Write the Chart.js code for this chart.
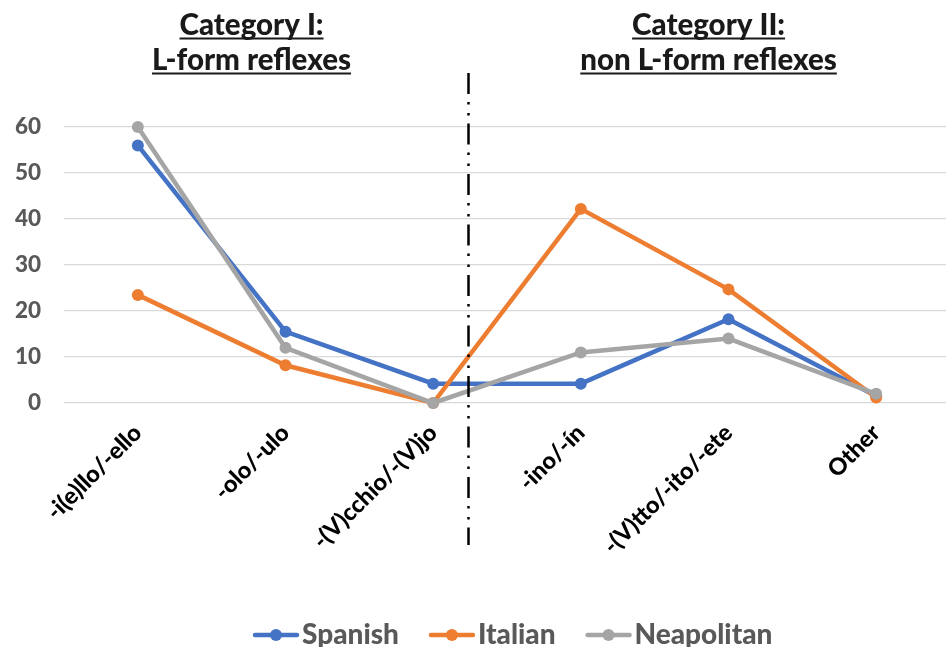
<!DOCTYPE html>
<html>
<head>
<meta charset="utf-8">
<script src="https://cdn.jsdelivr.net/npm/chart.js@4.4.1/dist/chart.umd.min.js"></script>
<style>
html,body{margin:0;padding:0;background:#fff;overflow:hidden;}
#wrap{position:absolute;left:0;top:0;width:956px;height:647px;}
</style>
</head>
<body>
<div id="wrap"><canvas id="c" width="956" height="647"></canvas></div>
<script>
const categories = ['-i(e)llo/-ello', '-olo/-ulo', '-(V)cchio/-(V)jo', '-ino/-ín', '-(V)tto/-ito/-ete', 'Other'];
const spanish = [56, 15.5, 4.2, 4.2, 18.2, 1.5];
const italian = [23.5, 8.2, 0, 42.2, 24.7, 1.2];
const neapolitan = [60, 12, 0, 11, 14, 2];
const seriesNames = ['Spanish', 'Italian', 'Neapolitan'];
const seriesColors = ['#4472C4', '#ED7D31', '#A5A5A5'];
const yMin = 0, yMax = 60, yStep = 10;
const groupTitles = [['Category I:', 'L-form reflexes'], ['Category II:', 'non L-form reflexes']];

const FONT = 'Lato, "Open Sans", sans-serif';

const decorPlugin = {
  id: 'decor',
  afterDatasetsDraw(chart) {
    const ctx = chart.ctx;
    const x = chart.scales.x;
    const dx = Math.round(x.getPixelForValue(2.235)) + 0.5;
    ctx.save();
    ctx.strokeStyle = '#000';
    ctx.lineWidth = 2.5;
    ctx.setLineDash([21, 8, 2.5, 8.5, 2.5, 8]);
    ctx.beginPath();
    ctx.moveTo(dx, 73);
    ctx.lineTo(dx, 545);
    ctx.stroke();
    ctx.restore();
  },
  afterDraw(chart) {
    const ctx = chart.ctx;
    const x = chart.scales.x;
    const centers = [x.getPixelForValue(0.77), x.getPixelForValue(3.865)];
    ctx.save();
    ctx.font = '900 29.5px ' + FONT;
    ctx.fillStyle = '#1a1a1a';
    ctx.strokeStyle = '#1a1a1a';
    ctx.textAlign = 'center';
    ctx.textBaseline = 'alphabetic';
    const baselines = [35, 70];
    groupTitles.forEach((lines, gi) => {
      lines.forEach((t, li) => {
        const cx = centers[gi];
        const by = baselines[li];
        ctx.fillText(t, cx, by);
        const w = ctx.measureText(t).width;
        ctx.lineWidth = 2;
        ctx.beginPath();
        ctx.moveTo(cx - w / 2, by + 3.5);
        ctx.lineTo(cx + w / 2, by + 3.5);
        ctx.stroke();
      });
    });
    // legend
    ctx.font = '900 28px ' + FONT;
    ctx.textAlign = 'left';
    ctx.textBaseline = 'middle';
    const ly = 635;
    const markerW = 46, gapAfterMarker = 3, gapBetween = 30;
    let lx = 253;
    seriesNames.forEach((n, i) => {
      ctx.strokeStyle = seriesColors[i];
      ctx.fillStyle = seriesColors[i];
      ctx.lineWidth = 4.5;
      ctx.lineCap = 'round';
      ctx.beginPath();
      ctx.moveTo(lx + 2, ly);
      ctx.lineTo(lx + markerW - 2, ly);
      ctx.stroke();
      ctx.beginPath();
      ctx.arc(lx + markerW / 2, ly, 6, 0, Math.PI * 2);
      ctx.fill();
      ctx.fillStyle = '#595959';
      ctx.fillText(n, lx + markerW + gapAfterMarker, ly);
      lx += markerW + gapAfterMarker + ctx.measureText(n).width + gapBetween;
    });
    ctx.restore();
  }
};

const seriesData = [spanish, italian, neapolitan];
new Chart(document.getElementById('c'), {
  type: 'line',
  data: {
    labels: categories,
    datasets: seriesData.map((d, i) => ({
      label: seriesNames[i],
      data: d,
      borderColor: seriesColors[i],
      backgroundColor: seriesColors[i],
      borderWidth: 4.5,
      pointRadius: 6,
      pointBorderWidth: 0,
      pointBackgroundColor: seriesColors[i],
      tension: 0,
      clip: false,
      order: 2 - i
    }))
  },
  options: {
    responsive: false,
    animation: false,
    layout: { padding: { top: 127, left: 0, right: 0, bottom: 0 } },
    plugins: {
      legend: { display: false },
      tooltip: { enabled: false },
      title: { display: false }
    },
    scales: {
      x: {
        offset: true,
        grid: { display: false },
        border: { display: false },
        ticks: {
          color: '#000',
          font: { family: FONT, weight: '900', size: 23.5 },
          minRotation: 45,
          maxRotation: 45,
          padding: 8,
          autoSkip: false
        },
        afterFit(s) { s.height = 244; }
      },
      y: {
        min: yMin,
        max: yMax,
        grid: { color: '#d9d9d9', lineWidth: 1.3, drawTicks: false },
        border: { display: false },
        ticks: {
          stepSize: yStep,
          color: '#595959',
          font: { family: FONT, weight: '900', size: 22.5 },
          padding: 23
        },
        afterFit(s) { s.width = 64; }
      }
    }
  },
  plugins: [decorPlugin]
});
</script>
</body>
</html>
